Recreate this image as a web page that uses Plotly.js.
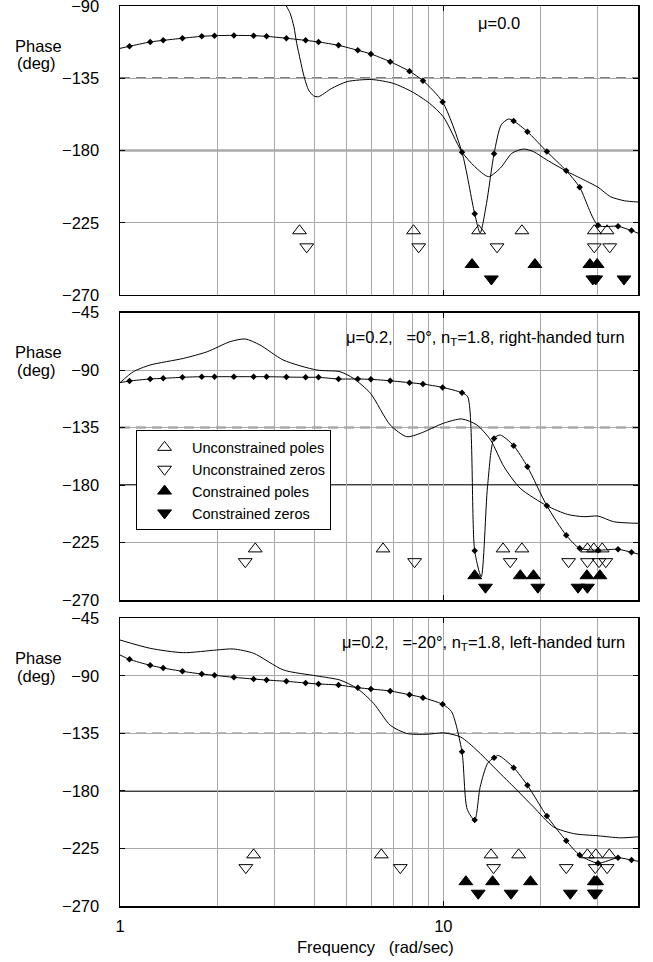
<!DOCTYPE html>
<html><head><meta charset="utf-8">
<script src="https://cdn.plot.ly/plotly-3.0.1.min.js"></script>
<style>html,body{margin:0;padding:0;background:#fff}</style>
</head><body><div id="chart" style="width:653px;height:962px"></div>
<script>
// ---------- data ----------
const markFreq = [1.07,1.24,1.36,1.56,1.79,1.96,2.25,2.59,2.84,3.27,3.75,4.11,4.74,5.44,5.97,6.85,7.86,8.65,9.95,11.42,12.5,14.35,16.5,18.2,20.9,24.0,26.4,30.1,34.7,38.2];

// Panel 1 (mu = 0.0)
const markPhase1 = [-115.1,-112.4,-111.4,-110.1,-108.9,-108.5,-108.3,-108.5,-108.9,-110.1,-111.4,-112.4,-114.5,-117.6,-119.9,-124.7,-130.7,-136.5,-149.8,-181.1,-219.4,-182.0,-161.6,-168.3,-180.7,-192.6,-202.9,-226.6,-227.2,-229.9];
const knotFreq1  = [1.0,13.0,13.6,15.1,15.9,40];
const knotPhase1 = [-116.4,-231.4,-213,-164,-160.4,-231.5];
const plainFreq1  = [3.1,3.27,3.36,3.45,3.52,3.61,3.71,3.83,3.97,4.11,4.5,5.04,6.0,7.0,8.0,9.06,10.0,11.4,12.5,13.8,15.0,16.3,17.7,19.0,20.9,24.2,27.9,30.1,32.9,36.3,40];
const plainPhase1 = [-82,-90,-94.6,-102.9,-113.3,-123.6,-134,-142.3,-146,-146.5,-141.5,-137.1,-135.8,-138.2,-143.4,-150.6,-159,-180.7,-190,-196.3,-191,-181.7,-179.1,-180.7,-185.9,-193.2,-199.4,-202.9,-208.8,-211.3,-212.1];
const openPoles1 = [3.59,8.09,12.86,17.5,29.3,32.1];
const openZeros1 = [3.78,8.39,14.66,29.3,32.7];
const consPoles1 = [12.27,19.2,28.4,29.9];
const consZeros1 = [14.08,29.0,29.6,36.2];

// Panel 2 (right-handed turn)
const markPhase2 = [-98.6,-97.0,-96.5,-95.7,-95.2,-95.2,-95.2,-95.2,-95.2,-95.5,-95.7,-95.7,-97.0,-97.0,-97.3,-98.4,-99.9,-101.0,-103.6,-107.8,-231.4,-143.5,-149.2,-165.7,-196.2,-219.4,-229.5,-231.0,-230.3,-232.7];
const knotFreq2  = [1.0,11.9,13.1,13.7,15.0,40];
const knotPhase2 = [-99.9,-111,-251.8,-181,-140.9,-234];
const plainFreq2  = [1.0,1.1,1.238,1.57,1.86,2.19,2.44,2.71,3.2,4.06,4.79,5.27,5.95,6.85,7.71,8.5,10,11.4,12.7,14.0,15.4,17.3,20.9,24.2,27.2,30.1,33.6,40];
const plainPhase2 = [-99.9,-91.3,-86.1,-80.9,-75.7,-67.8,-65.7,-70.4,-82.2,-90.0,-91.3,-96.5,-108.2,-133,-142.2,-139.5,-131.7,-128.3,-133,-144.8,-165.7,-182.6,-196.2,-203,-204.8,-204.3,-208.7,-210];
const openPoles2 = [2.62,6.51,15.3,17.5,27.9,29.2,31.0];
const openZeros2 = [2.44,8.15,16.1,24.4,27.9,30.3,31.8];
const consPoles2 = [12.5,17.3,19.0,27.8,30.5];
const consZeros2 = [13.5,19.6,26.1,27.9];

// Panel 3 (left-handed turn)
const markPhase3 = [-77.1,-81.8,-83.9,-86.5,-88.6,-89.6,-91.2,-92.5,-93.3,-94.3,-95.6,-96.4,-97.2,-99.3,-100.3,-101.9,-104.8,-107.1,-112.3,-149.4,-202.8,-154.0,-161.8,-175.6,-199.7,-219.0,-230.2,-236.5,-232.3,-234.1];
const knotFreq3  = [1.0,10.6,11.85,13.0,13.7,14.8,40];
const knotPhase3 = [-73.7,-118,-194.3,-176.8,-158.5,-152.3,-235];
const plainFreq3  = [1.0,1.24,1.57,1.99,2.24,2.59,3.2,4.06,4.79,5.41,6.09,6.85,7.71,8.9,10,11.3,12.7,14.3,16.5,19.0,21.9,25.3,30.1,35.3,40];
const plainPhase3 = [-62.0,-68.5,-71.9,-69.8,-69.0,-72.4,-85.4,-90.1,-93.3,-99.8,-111.6,-128.6,-135.1,-135.7,-134.6,-137.8,-148.2,-161.2,-176.8,-192.5,-208.1,-213.4,-215.1,-216.7,-215.9];
const openPoles3 = [2.59,6.43,14.05,17.1,27.9,29.6,32.6];
const openZeros3 = [2.45,7.36,14.3,24.0,29.5,32.1];
const consPoles3 = [11.74,14.2,18.6,29.3,29.8];
const consZeros3 = [12.82,16.2,24.7,29.3,29.6];

// display level of pole/zero symbols (deg)
const levelOpenPole = -230, levelOpenZero = -240, levelConsPole = -251, levelConsZero = -260;

const yTicks1 = [-270,-225,-180,-135,-90];
const yTicks23 = [-270,-225,-180,-135,-90,-45];
const xTickVals = [1,10];
const xMinorVals = [2,3,4,5,6,7,8,9,20,30];

const panelLabels = [
  "μ=0.0",
  "μ=0.2,\u00a0\u00a0\u00a0=0°, n<sub>T</sub>=1.8, right-handed turn",
  "μ=0.2,\u00a0\u00a0\u00a0=-20°, n<sub>T</sub>=1.8, left-handed turn"
];

// ---------- build ----------
const FONT = "Liberation Sans, Arial, Helvetica, sans-serif";
const FS = 16.5;
const GRID = "#a8a8a8";
const panels = [
  {mp: markPhase1, kf: knotFreq1, kp: knotPhase1, pf: plainFreq1, pp: plainPhase1, op: openPoles1, oz: openZeros1, cp: consPoles1, cz: consZeros1},
  {mp: markPhase2, kf: knotFreq2, kp: knotPhase2, pf: plainFreq2, pp: plainPhase2, op: openPoles2, oz: openZeros2, cp: consPoles2, cz: consZeros2},
  {mp: markPhase3, kf: knotFreq3, kp: knotPhase3, pf: plainFreq3, pp: plainPhase3, op: openPoles3, oz: openZeros3, cp: consPoles3, cz: consZeros3}
];
const traces = [];
panels.forEach((p, i) => {
  const xa = i === 0 ? 'x' : 'x' + (i + 1);
  const ya = i === 0 ? 'y' : 'y' + (i + 1);
  const pts = markFreq.map((f, k) => [f, p.mp[k]]).concat(p.kf.map((f, k) => [f, p.kp[k]]));
  pts.sort((a, b) => a[0] - b[0]);
  traces.push({x: pts.map(q => q[0]), y: pts.map(q => q[1]), xaxis: xa, yaxis: ya, mode: 'lines',
    line: {color: '#000', width: 1, shape: 'spline', smoothing: 0.7}, showlegend: false});
  traces.push({x: markFreq, y: p.mp, xaxis: xa, yaxis: ya, mode: 'markers',
    marker: {symbol: 'diamond', size: 5, color: '#000'}, showlegend: false});
  traces.push({x: p.pf, y: p.pp, xaxis: xa, yaxis: ya, mode: 'lines',
    line: {color: '#000', width: 1, shape: 'spline', smoothing: 0.7}, showlegend: false});
  const sym = [
    ['Unconstrained poles', p.op, levelOpenPole, 'triangle-up-open'],
    ['Unconstrained zeros', p.oz, levelOpenZero, 'triangle-down-open'],
    ['Constrained poles', p.cp, levelConsPole, 'triangle-up'],
    ['Constrained zeros', p.cz, levelConsZero, 'triangle-down']
  ];
  sym.forEach((s, k) => {
    traces.push({x: s[1], y: s[1].map(() => s[2]), xaxis: xa, yaxis: ya, mode: 'markers', name: s[0],
      legendrank: k + 1, showlegend: i === 1,
      marker: {symbol: s[3], size: 12, color: '#000', line: {color: '#000', width: 1}}});
  });
});

const domains = [[0.6789, 1], [0.34, 0.6594], [0.0, 0.3197]];
const layout = {
  width: 653, height: 962,
  margin: {l: 120, r: 15, t: 6, b: 56},
  paper_bgcolor: '#fff', plot_bgcolor: '#fff',
  font: {family: FONT, size: FS, color: '#000'},
  showlegend: true,
  legend: {x: 0.031, y: 0.5284, xanchor: 'left', yanchor: 'top', bgcolor: '#fff', bordercolor: '#000', borderwidth: 1,
    font: {family: FONT, size: 14.5, color: '#000'}, traceorder: 'normal', itemwidth: 45},
  shapes: [], annotations: []
};
for (let i = 0; i < 3; i++) {
  const sfx = i === 0 ? '' : String(i + 1);
  layout['xaxis' + sfx] = {
    type: 'log', range: [0, Math.log10(40)], anchor: 'y' + sfx, domain: [0, 1],
    tickmode: 'array', tickvals: xTickVals, ticktext: xTickVals.map(String), showticklabels: i === 2,
    showgrid: true, gridcolor: GRID, gridwidth: 1, zeroline: false,
    ticks: 'inside', ticklen: 5, tickcolor: '#000', tickwidth: 1,
    showline: true, linecolor: '#000', linewidth: 1.5, mirror: 'ticks',
    minor: {tickmode: 'array', tickvals: xMinorVals, showgrid: true, gridcolor: GRID, gridwidth: 1, ticks: ''},
    tickfont: {family: FONT, size: FS, color: '#000'}, ticklabelstandoff: 5
  };
  layout['yaxis' + sfx] = {
    range: i === 0 ? [-270, -90] : [-270, -45], anchor: 'x' + sfx, domain: domains[i],
    tickmode: 'array', tickvals: i === 0 ? yTicks1 : yTicks23,
    showgrid: true, gridcolor: GRID, gridwidth: 1, zeroline: false,
    ticks: 'inside', ticklen: 5, tickcolor: '#000', tickwidth: 1,
    showline: true, linecolor: '#000', linewidth: 1.5, mirror: 'ticks',
    tickfont: {family: FONT, size: FS, color: '#000'}, ticklabelstandoff: 16, ticklabeloverflow: 'allow'
  };
  const xr = 'x' + sfx + ' domain', yr = 'y' + sfx;
  layout.shapes.push({type: 'line', xref: xr, yref: yr, x0: 0, x1: 1, y0: -135, y1: -135, layer: 'below',
    line: {color: '#000', width: 1.4, dash: '10px,6px'}});
  layout.shapes.push({type: 'line', xref: xr, yref: yr, x0: 0, x1: 1, y0: -180, y1: -180, layer: 'below',
    line: {color: '#000', width: 1.5}});
}
// axis-label rows (pixel centres converted to paper fraction: (906 - px)/900)
const phaseRows = [[46, 63], [352, 370], [658, 676]];
const toPaper = px => (906 - px) / 900;
phaseRows.forEach(r => {
  layout.annotations.push({text: 'Phase', xref: 'paper', yref: 'paper', x: -0.158, y: toPaper(r[0]),
    xanchor: 'center', yanchor: 'middle', showarrow: false, font: {family: FONT, size: FS, color: '#000'}});
  layout.annotations.push({text: '(deg)', xref: 'paper', yref: 'paper', x: -0.161, y: toPaper(r[1]),
    xanchor: 'center', yanchor: 'middle', showarrow: false, font: {family: FONT, size: FS, color: '#000'}});
});
layout.annotations.push({text: panelLabels[0], xref: 'paper', yref: 'paper', x: (499 - 120) / 518, y: toPaper(23), xanchor: 'center', yanchor: 'middle', showarrow: false, font: {family: FONT, size: FS}});
layout.annotations.push({text: panelLabels[1], xref: 'paper', yref: 'paper', x: (627 - 120) / 518, y: toPaper(338), xanchor: 'right', yanchor: 'middle', showarrow: false, font: {family: FONT, size: FS}});
layout.annotations.push({text: panelLabels[2], xref: 'paper', yref: 'paper', x: (627 - 120) / 518, y: toPaper(643), xanchor: 'right', yanchor: 'middle', showarrow: false, font: {family: FONT, size: FS}});
layout.annotations.push({text: 'Frequency\u00a0\u00a0\u00a0(rad/sec)', xref: 'paper', yref: 'paper', x: (375 - 120) / 518, y: toPaper(947), xanchor: 'center', yanchor: 'middle', showarrow: false, font: {family: FONT, size: FS}});

Plotly.newPlot('chart', traces, layout, {staticPlot: true, displayModeBar: false});
</script></body></html>
